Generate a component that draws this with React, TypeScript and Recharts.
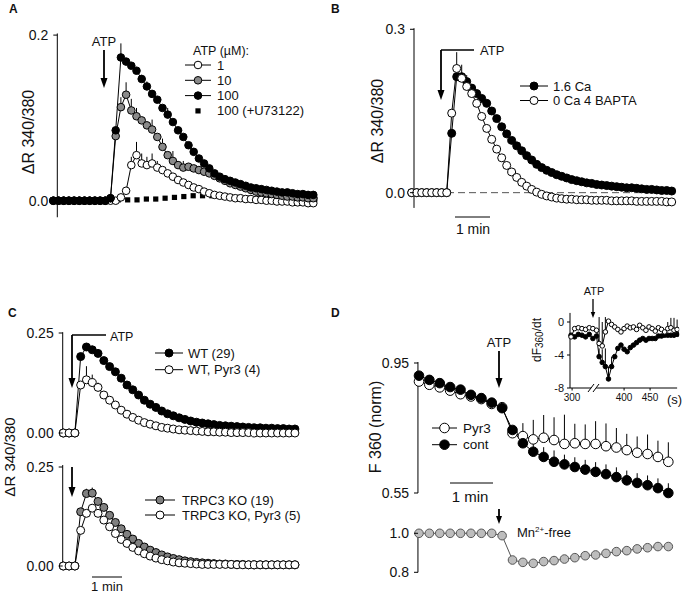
import React from 'react';
import { LineChart, Line, XAxis, YAxis, ReferenceLine, ErrorBar, Legend } from 'recharts';

const FONT = '"Liberation Sans", Arial, Helvetica, sans-serif';

// ---------- A: ATP dose response, one value per frame
const aDose1 = [
  0, 0, 0, 0, 0, 0, 0, 0, 0, 0, 0, 0, 0,
  0.004, 0.012, 0.043, 0.055, 0.045, 0.043, 0.045, 0.04, 0.037,
  0.033, 0.029, 0.025, 0.022, 0.019, 0.016, 0.014, 0.011, 0.009, 0.007,
  0.006, 0.005, 0.004, 0.003, 0.003, 0.002, 0.002, 0.001, 0.001, 0,
  0, -0.001, -0.001, -0.001, -0.002, -0.002, -0.002, -0.003, -0.003,
];
const aDose10 = [
  0, 0, 0, 0, 0, 0, 0, 0, 0, 0, 0, 0.003,
  0.078, 0.113, 0.128, 0.109, 0.102, 0.097, 0.091, 0.086, 0.077, 0.065,
  0.055, 0.048, 0.043, 0.04, 0.041, 0.039, 0.037, 0.035, 0.033, 0.03,
  0.027, 0.024, 0.021, 0.019, 0.017, 0.015, 0.013, 0.011, 0.01, 0.009,
  0.008, 0.007, 0.006, 0.005, 0.005, 0.004, 0.004, 0.003, 0.003,
];
const aDose100 = [
  0, 0, 0, 0, 0, 0, 0, 0, 0, 0, 0, 0.003,
  0.085, 0.173, 0.168, 0.163, 0.157, 0.147, 0.138, 0.129, 0.122, 0.112,
  0.104, 0.095, 0.085, 0.077, 0.067, 0.059, 0.051, 0.045, 0.039, 0.033,
  0.029, 0.026, 0.024, 0.022, 0.02, 0.018, 0.016, 0.015, 0.014, 0.013,
  0.012, 0.011, 0.01, 0.01, 0.009, 0.008, 0.008, 0.007, 0.007,
];
// upward SEM bars (missing entries = none)
const aErr1 = [0, 0, 0, 0, 0, 0, 0, 0, 0, 0, 0, 0, 0, 0, 0, 0.01, 0.016, 0.012, 0.01, 0.012, 0.008];
const aErr10 = [0, 0, 0, 0, 0, 0, 0, 0, 0, 0, 0, 0, 0, 0.012, 0.015, 0.014, 0.01, 0, 0, 0.012, 0, 0.01, 0, 0.012, 0, 0.008];
const aErr100 = [0, 0, 0, 0, 0, 0, 0, 0, 0, 0, 0, 0, 0, 0.017, 0, 0, 0, 0.005, 0.006, 0, 0, 0, 0.008];
const aU73122Frames = [12.5, 14.3, 16.1, 17.9, 19.7, 21.5, 23.3, 25.1, 26.9, 28.7, 30.5, 32.3, 34.1, 35.9, 37.7, 39.5, 41.3, 43.1, 44.9, 46.7, 48.5, 50.3];
const aU73122 = [0.001, 0.001, 0.001, 0.002, 0.002, 0.003, 0.004, 0.005, 0.006, 0.006, 0.006, 0.005, 0.004, 0.004, 0.003, 0.003, 0.003, 0.002, 0.002, 0.002, 0.002, 0.002];

// ---------- B: 1.6 Ca vs 0 Ca / BAPTA
const bCa = [
  0, 0, 0, 0, 0, 0, 0, 0,
  0.109, 0.213, 0.213, 0.204, 0.192, 0.182, 0.173, 0.164, 0.15, 0.136,
  0.121, 0.108, 0.096, 0.086, 0.077, 0.068, 0.06, 0.052, 0.046, 0.041,
  0.037, 0.033, 0.03, 0.027, 0.024, 0.022, 0.02, 0.018, 0.017, 0.015,
  0.014, 0.013, 0.012, 0.011, 0.01, 0.009, 0.009, 0.008, 0.007, 0.006,
  0.006, 0.005, 0.004, 0.004, 0.003,
];
const bBapta = [
  0, 0, 0, 0, 0, 0, 0, 0,
  0.146, 0.228, 0.21, 0.195, 0.182, 0.164, 0.14, 0.118, 0.098, 0.08,
  0.064, 0.05, 0.038, 0.028, 0.019, 0.012, 0.006, 0.001, -0.003, -0.006,
  -0.008, -0.01, -0.011, -0.012, -0.012, -0.013, -0.013, -0.013, -0.014, -0.014,
  -0.014, -0.014, -0.015, -0.015, -0.015, -0.015, -0.015, -0.016, -0.016, -0.016,
  -0.016, -0.016, -0.016, -0.017, -0.017,
];
const bErrCa = [0, 0, 0, 0, 0, 0, 0, 0, 0, 0, 0.022, 0.012];
const bErrBapta = [0, 0, 0, 0, 0, 0, 0, 0, 0, 0.03];

// ---------- C: WT / TRPC3 KO with and without Pyr3
const cWT = [
  0, 0, 0, 0.191, 0.215, 0.208, 0.199, 0.181, 0.166, 0.153,
  0.137, 0.12, 0.108, 0.095, 0.082, 0.072, 0.064, 0.055, 0.048, 0.043,
  0.038, 0.034, 0.03, 0.027, 0.025, 0.023, 0.021, 0.019, 0.018, 0.017,
  0.016, 0.015, 0.014, 0.013, 0.013, 0.012, 0.012, 0.011, 0.011, 0.01, 0.01,
];
const cWTPyr3 = [
  0, 0, 0, 0.12, 0.133, 0.126, 0.114, 0.095, 0.082, 0.07,
  0.057, 0.047, 0.039, 0.032, 0.026, 0.022, 0.018, 0.014, 0.012, 0.01,
  0.008, 0.007, 0.006, 0.005, 0.004, 0.003, 0.003, 0.002, 0.002, 0.001,
  0.001, 0.001, 0.001, 0, 0, 0, 0, 0, 0, 0, 0,
];
const cKO = [
  0, 0, 0, 0.137, 0.183, 0.184, 0.163, 0.148, 0.128, 0.11,
  0.094, 0.08, 0.068, 0.057, 0.048, 0.04, 0.034, 0.028, 0.023, 0.019,
  0.016, 0.013, 0.011, 0.009, 0.008, 0.007, 0.006, 0.005, 0.005, 0.004,
  0.004, 0.004, 0.003, 0.003, 0.003, 0.003, 0.003, 0.003, 0.003, 0.003, 0.003,
];
const cKOPyr3 = [
  0, 0, 0, 0.09, 0.133, 0.146, 0.133, 0.116, 0.099, 0.082,
  0.067, 0.057, 0.047, 0.038, 0.031, 0.025, 0.02, 0.016, 0.013, 0.01,
  0.008, 0.007, 0.006, 0.005, 0.004, 0.004, 0.004, 0.004, 0.004, 0.004,
  0.003, 0.003, 0.003, 0.003, 0.003, 0.003, 0.003, 0.003, 0.003, 0.003, 0.003,
];
const cErrWT = [0, 0, 0, 0, 0, 0.01];
const cErrWTPyr3 = [0, 0, 0, 0, 0.034, 0.02, 0.012];
const cErrKO = [0, 0, 0, 0, 0.012, 0.014];
const cErrKOPyr3 = [0, 0, 0, 0, 0, 0.008];

// ---------- D: Mn quench F360, inset derivative, Mn-free control
const dCont = [0.911, 0.898, 0.888, 0.876, 0.868, 0.852, 0.842, 0.828, 0.811, 0.744, 0.703, 0.677, 0.661, 0.646, 0.638, 0.63, 0.622, 0.615, 0.608, 0.599, 0.589, 0.581, 0.574, 0.565, 0.55];
const dPyr3 = [0.893, 0.883, 0.875, 0.865, 0.854, 0.847, 0.839, 0.824, 0.814, 0.734, 0.725, 0.715, 0.72, 0.713, 0.701, 0.703, 0.701, 0.701, 0.694, 0.69, 0.682, 0.674, 0.67, 0.661, 0.646];
const dErrCont = [0, 0, 0, 0, 0, 0, 0, 0, 0, 0.01, 0.02, 0.03, 0.03, 0.035, 0.03, 0.03, 0.03, 0.03, 0.03, 0.03, 0.03, 0.03, 0.03, 0.03, 0.03];
const dErrPyr3 = [0, 0, 0, 0, 0, 0, 0, 0, 0, 0.02, 0.04, 0.06, 0.07, 0.07, 0.09, 0.06, 0.06, 0.07, 0.07, 0.06, 0.05, 0.05, 0.06, 0.05, 0.06];
const dMnFree = [1.0, 1.0, 1.0, 1.0, 1.0, 1.0, 1.0, 1.0, 0.988, 0.863, 0.851, 0.846, 0.855, 0.86, 0.868, 0.875, 0.885, 0.889, 0.897, 0.906, 0.911, 0.92, 0.926, 0.932, 0.932];

const insetTime = [298, 305, 312, 319, 326, 333, 340, 347, 352, 358, 364, 370, 376, 382, 388, 394, 400, 406, 412, 418, 424, 430, 436, 442, 448, 454, 460, 466, 472, 478, 484, 490, 496, 502];
const insetCont = [-1.6, -1.8, -1.5, -1.6, -1.8, -1.5, -2.0, -1.7, -4.2, -4.9, -5.4, -6.9, -5.4, -4.2, -3.2, -2.8, -3.3, -3.6, -3.1, -2.8, -2.5, -2.2, -2.0, -2.2, -2.0, -2.0, -2.0, -1.7, -1.7, -1.6, -1.6, -1.6, -1.6, -1.5];
const insetPyr3 = [-1.8, -0.8, -0.7, -0.8, -0.9, -0.7, -0.8, -1.0, -2.6, -2.9, -1.2, 0.1, -0.3, -0.6, -0.9, -1.2, -0.8, -0.5, -0.7, -0.6, -0.9, -0.4, -0.7, -1.0, -0.6, -0.8, -1.1, -0.7, -0.9, -1.2, -0.8, -0.7, -1.0, -0.9];
const insetErrCont = [0, 0, 0, 0, 0, 0, 0, 0, 1.0, 1.6, 2.2, 1.5, 1.2];
const insetErrPyr3 = [0, 0, 0, 0, 0, 0, 0, 0, 3.2, 2.9, 1.8, 0, 0, 0, 0, 0, 0, 0, 0, 0, 0, 0, 0, 0, 0, 0, 0, 0, 0, 0, 0.8, 1.2, 1.5, 1.2];
const insetTicks = [300, 400, 450];

type Pt = { x: number; y: number; e: [number, number] };
const toPts = (ys: number[], errs: number[] = [], xs?: number[]): Pt[] =>
  ys.map((y, i) => ({ x: xs ? xs[i] : i, y, e: [0, errs[i] ?? 0] }));

const GREY = '#8a8a8a';

function trace(id: string, pts: Pt[], fill: string, r: number, line = '#000', edge = '#000') {
  return (
    <Line
      key={id}
      data={pts}
      dataKey="y"
      type="linear"
      stroke={line}
      strokeWidth={1}
      dot={{ r, fill, stroke: edge, strokeWidth: 1 }}
      activeDot={false}
      legendType="none"
      isAnimationActive={false}
    >
      <ErrorBar dataKey="e" direction="y" width={0} stroke="#000" strokeWidth={1} />
    </Line>
  );
}

const SquareDot = (p: any) => (
  <rect key={`sq-${p.index}`} x={p.cx - 2.6} y={p.cy - 2.6} width={5.2} height={5.2} fill="#000" />
);

function YTick(props: any) {
  const { x, y, payload, shift, digits, fs, gap, len } = props;
  const ax = x + shift;
  return (
    <g>
      <line x1={ax - len} x2={ax} y1={y} y2={y} stroke="#000" />
      <text x={ax - gap} y={y} dy="0.35em" textAnchor="end" fontSize={fs} fontFamily={FONT} fill="#111">
        {Number(payload.value).toFixed(digits)}
      </text>
    </g>
  );
}

function XTick(props: any) {
  const { x, y, payload, shift } = props;
  const ay = y + shift;
  return (
    <g>
      <line x1={x} x2={x} y1={ay} y2={ay + 2.5} stroke="#000" />
      <text x={x} y={ay + 13} textAnchor="middle" fontSize={10} fontFamily={FONT} fill="#111">
        {payload.value}
      </text>
    </g>
  );
}

function yAxis(domain: [number, number], ticks: number[], width: number, shift: number, digits: number, fs = 14, gap = 9, len = 4) {
  return (
    <YAxis
      type="number"
      domain={domain}
      allowDataOverflow
      ticks={ticks}
      interval={0}
      width={width}
      axisLine={false}
      tickLine={false}
      tickSize={0}
      tickMargin={0}
      tick={(p: any) => <YTick x={p.x} y={p.y} payload={p.payload} shift={shift} digits={digits} fs={fs} gap={gap} len={len} />}
    />
  );
}

const xAxis = (domain: [number, number]) => (
  <XAxis type="number" dataKey="x" domain={domain} allowDataOverflow hide />
);

const axisLine = (x: number, y0: number, y1: number) => (
  <ReferenceLine segment={[{ x, y: y0 }, { x, y: y1 }]} stroke="#000" strokeWidth={1} />
);

type KeyItem = { label: string; fill: string; r: number; square?: boolean };

function KeyBox({ items, gap, lineW, textX, fs, title, titleDy }: { items: KeyItem[]; gap: number; lineW: number; textX: number; fs: number; title?: string; titleDy?: number }) {
  const pad = 20;
  return (
    <svg width={240} height={pad + items.length * gap + 10} style={{ display: 'block', overflow: 'visible' }}>
      {title ? (
        <text x={8} y={pad - (titleDy ?? 0)} dy="0.35em" fontSize={fs - 0.5} fontFamily={FONT} fill="#111">{title}</text>
      ) : null}
      {items.map((it, i) => {
        const y = pad + i * gap;
        return (
          <g key={it.label}>
            {it.square ? (
              <rect x={lineW / 2 - 2.6} y={y - 2.6} width={5.2} height={5.2} fill="#000" />
            ) : (
              <>
                <line x1={0} x2={lineW} y1={y} y2={y} stroke="#000" />
                <circle cx={lineW / 2} cy={y} r={it.r} fill={it.fill} stroke="#000" />
              </>
            )}
            <text x={textX} y={y} dy="0.35em" fontSize={fs} fontFamily={FONT} fill="#111">{it.label}</text>
          </g>
        );
      })}
    </svg>
  );
}

function keyLegend(left: number, top: number, box: React.ReactElement) {
  return (
    <Legend
      layout="vertical"
      align="center"
      verticalAlign="middle"
      content={() => box}
      wrapperStyle={{ left, top, width: 240, height: 90 }}
    />
  );
}

function Arrow({ x, y1, y2, w = 1.8, head = 7, hl = 10 }: { x: number; y1: number; y2: number; w?: number; head?: number; hl?: number }) {
  return (
    <g>
      <line x1={x} x2={x} y1={y1} y2={y2 - hl + 1} stroke="#000" strokeWidth={w} />
      <polygon points={`${x - head / 2},${y2 - hl} ${x + head / 2},${y2 - hl} ${x},${y2}`} fill="#000" />
    </g>
  );
}

function VLabel({ cx, cy, fs, children }: { cx: number; cy: number; fs: number; children: React.ReactNode }) {
  return (
    <text transform={`translate(${cx},${cy}) rotate(-90)`} textAnchor="middle" dy="0.35em" fontSize={fs} fontFamily={FONT} fill="#111">
      {children}
    </text>
  );
}

const abs = (l: number, t: number): React.CSSProperties => ({ position: 'absolute', left: l, top: t });

export default function App() {
  return (
    <div style={{ position: 'absolute', left: 0, top: 0, width: 683, height: 594, background: '#fff', overflow: 'hidden', fontFamily: FONT }}>
      {/* A */}
      <div style={abs(0, 0)}>
        <LineChart width={330} height={230} margin={{ top: 18.54, right: 5.26, bottom: 4.46, left: 0 }}>
          {xAxis([-1.6, 52.2])}
          {yAxis([-0.03, 0.22], [0, 0.2], 44.98, 12.32, 1)}
          {axisLine(0.77, -0.02, 0.202)}
          <Line data={toPts(aU73122, [], aU73122Frames)} dataKey="y" stroke="none" dot={SquareDot} activeDot={false} legendType="none" isAnimationActive={false} />
          {trace('a1', toPts(aDose1, aErr1), '#fff', 3.8)}
          {trace('a10', toPts(aDose10, aErr10), GREY, 3.8)}
          {trace('a100', toPts(aDose100, aErr100), '#000', 3.8)}
          {keyLegend(185, 44.5, (
            <KeyBox
              title="ATP (µM):"
              titleDy={14}
              gap={15.3}
              lineW={26}
              textX={32}
              fs={13}
              items={[
                { label: '1', fill: '#fff', r: 3.8 },
                { label: '10', fill: GREY, r: 3.8 },
                { label: '100', fill: '#000', r: 3.8 },
                { label: '100 (+U73122)', fill: '#000', r: 3.8, square: true },
              ]}
            />
          ))}
        </LineChart>
      </div>

      {/* B */}
      <div style={abs(340, 0)}>
        <LineChart width={343} height={230} margin={{ top: 12.95, right: 3.3, bottom: 10.1, left: 0 }}>
          {xAxis([-2.3, 53.6])}
          {yAxis([-0.05, 0.33], [0, 0.3], 60.2, 13.8, 1)}
          {axisLine(0.46, -0.028, 0.302)}
          <ReferenceLine segment={[{ x: 0.46, y: 0 }, { x: 52.3, y: 0 }]} stroke="#555" strokeDasharray="7 4" />
          {trace('bca', toPts(bCa, bErrCa), '#000', 4)}
          {trace('bbapta', toPts(bBapta, bErrBapta), '#fff', 4)}
          {keyLegend(180, 66, (
            <KeyBox
              gap={14.5}
              lineW={28}
              textX={33}
              fs={13}
              items={[
                { label: '1.6 Ca', fill: '#000', r: 4 },
                { label: '0 Ca 4 BAPTA', fill: '#fff', r: 4 },
              ]}
            />
          ))}
        </LineChart>
      </div>

      {/* C top */}
      <div style={abs(0, 320)}>
        <LineChart width={340} height={125} margin={{ top: 5, right: 36.4, bottom: 2, left: 0 }}>
          {xAxis([-1.5, 41.5])}
          {yAxis([-0.025, 0.27], [0, 0.25], 54.6, 8.1, 2)}
          {axisLine(-0.1, -0.005, 0.252)}
          {trace('cwt', toPts(cWT, cErrWT), '#000', 4)}
          {trace('cwtp', toPts(cWTPyr3, cErrWTPyr3), '#fff', 4)}
          {keyLegend(155, 13.3, (
            <KeyBox
              gap={16.7}
              lineW={28}
              textX={33}
              fs={13}
              items={[
                { label: 'WT (29)', fill: '#000', r: 4 },
                { label: 'WT, Pyr3 (4)', fill: '#fff', r: 4 },
              ]}
            />
          ))}
        </LineChart>
      </div>

      {/* C bottom */}
      <div style={abs(0, 455)}>
        <LineChart width={340} height={125} margin={{ top: 4.08, right: 36.4, bottom: 4.1, left: 0 }}>
          {xAxis([-1.5, 41.5])}
          {yAxis([-0.025, 0.27], [0, 0.25], 54.6, 8.1, 2)}
          {axisLine(-0.1, -0.005, 0.255)}
          {trace('cko', toPts(cKO, cErrKO), '#808080', 4)}
          {trace('ckop', toPts(cKOPyr3, cErrKOPyr3), '#fff', 4)}
          {keyLegend(145, 25, (
            <KeyBox
              gap={15}
              lineW={30}
              textX={37}
              fs={13}
              items={[
                { label: 'TRPC3 KO (19)', fill: '#808080', r: 4 },
                { label: 'TRPC3 KO, Pyr3 (5)', fill: '#fff', r: 4 },
              ]}
            />
          ))}
        </LineChart>
      </div>

      {/* D main */}
      <div style={abs(340, 340)}>
        <LineChart width={343} height={170} margin={{ top: 10, right: 2.2, bottom: 4, left: 0 }}>
          {xAxis([-1.5, 25.2])}
          {yAxis([0.51, 0.99], [0.55, 0.95], 63.4, 14.6, 2)}
          {axisLine(-0.1, 0.55, 0.953)}
          {trace('dpyr', toPts(dPyr3, dErrPyr3), '#fff', 4.8)}
          {trace('dcont', toPts(dCont, dErrCont), '#000', 4.8)}
          {keyLegend(92, 68.3, (
            <KeyBox
              gap={16.7}
              lineW={25}
              textX={31}
              fs={13.5}
              items={[
                { label: 'Pyr3', fill: '#fff', r: 4.8 },
                { label: 'cont', fill: '#000', r: 4.8 },
              ]}
            />
          ))}
        </LineChart>
      </div>

      {/* D bottom: Mn2+-free */}
      <div style={abs(340, 515)}>
        <LineChart width={343} height={70} margin={{ top: 8.55, right: 2.2, bottom: 6.85, left: 0 }}>
          {xAxis([-1.5, 25.2])}
          {yAxis([0.77, 1.05], [0.8, 1.0], 63.4, 14.6, 1)}
          {axisLine(-0.1, 0.8, 1.005)}
          {trace('dmn', toPts(dMnFree), '#bdbdbd', 4.3, '#555', '#555')}
        </LineChart>
      </div>

      {/* D inset */}
      <div style={abs(530, 300)}>
        <LineChart width={153} height={110} margin={{ top: 7.15, right: 3.8, bottom: 0, left: 0 }}>
          <XAxis
            type="number"
            dataKey="x"
            domain={[290, 506]}
            allowDataOverflow
            ticks={insetTicks}
            interval={0}
            height={17.05}
            axisLine={false}
            tickLine={false}
            tickSize={0}
            tickMargin={0}
            tick={(p: any) => <XTick x={p.x} y={p.y} payload={p.payload} shift={-4.95} />}
          />
          {yAxis([-8.6, 1.8], [-8, -4, 0], 36.88, 3.12, 0, 11, 6, 3)}
          {axisLine(296, -8, 1.1)}
          <ReferenceLine segment={[{ x: 296, y: -8 }, { x: 502, y: -8 }]} stroke="#000" strokeWidth={1} />
          {trace('icont', toPts(insetCont, insetErrCont, insetTime), '#000', 2.3)}
          {trace('ipyr', toPts(insetPyr3, insetErrPyr3, insetTime), '#fff', 2.3)}
        </LineChart>
      </div>

      {/* annotations */}
      <svg width={683} height={594} style={{ position: 'absolute', left: 0, top: 0, pointerEvents: 'none' }}>
        <g fontFamily={FONT} fill="#111">
          <text x={9} y={13} fontSize={12} fontWeight="bold">A</text>
          <text x={331} y={13} fontSize={12} fontWeight="bold">B</text>
          <text x={8} y={317} fontSize={12} fontWeight="bold">C</text>
          <text x={331} y={317} fontSize={12} fontWeight="bold">D</text>

          <VLabel cx={28} cy={132} fs={16}>ΔR 340/380</VLabel>
          <VLabel cx={377} cy={121} fs={16}>ΔR 340/380</VLabel>
          <VLabel cx={10} cy={457} fs={15}>ΔR 340/380</VLabel>
          <VLabel cx={375} cy={427} fs={16}>F 360 (norm)</VLabel>
          <VLabel cx={537} cy={340} fs={12}>
            <tspan>dF</tspan>
            <tspan fontSize={10} dy={2}>360</tspan>
            <tspan dy={-2}>/dt</tspan>
          </VLabel>

          {/* A */}
          <text x={104} y={46} fontSize={13} textAnchor="middle">ATP</text>
          <Arrow x={104} y1={50} y2={88} />

          {/* B */}
          <line x1={441} x2={474} y1={50} y2={50} stroke="#000" strokeWidth={1.6} />
          <Arrow x={441} y1={50} y2={100} />
          <text x={480} y={55} fontSize={13}>ATP</text>
          <line x1={455} x2={490} y1={217} y2={217} stroke="#000" strokeWidth={1} />
          <text x={473} y={234} fontSize={14} textAnchor="middle">1 min</text>

          {/* C */}
          <line x1={72} x2={106} y1={335} y2={335} stroke="#000" strokeWidth={1.6} />
          <Arrow x={72} y1={335} y2={388} />
          <text x={110} y={341} fontSize={12.5}>ATP</text>
          <Arrow x={72} y1={467} y2={497} />
          <line x1={92} x2={122} y1={577} y2={577} stroke="#000" strokeWidth={1} />
          <text x={107} y={590.5} fontSize={13} textAnchor="middle">1 min</text>

          {/* D */}
          <text x={499} y={347} fontSize={13} textAnchor="middle">ATP</text>
          <Arrow x={499} y1={351} y2={388} />
          <line x1={450} x2={493} y1={483} y2={483} stroke="#000" strokeWidth={1} />
          <text x={470} y={502} fontSize={15} textAnchor="middle">1 min</text>
          <Arrow x={499} y1={509} y2={524} hl={8} head={6} />
          <text x={517} y={537} fontSize={13}>
            Mn<tspan fontSize={8} dy={-5}>2+</tspan><tspan dy={5}>-free</tspan>
          </text>

          {/* inset */}
          <text x={594} y={295} fontSize={11} textAnchor="middle">ATP</text>
          <Arrow x={593} y1={299} y2={318} w={1.3} head={4.5} hl={6} />
          <line x1={591} x2={597} y1={392} y2={384} stroke="#fff" strokeWidth={4} />
          <line x1={588} x2={594} y1={392} y2={384} stroke="#000" strokeWidth={1} />
          <line x1={593} x2={599} y1={392} y2={384} stroke="#000" strokeWidth={1} />
          <text x={667} y={404} fontSize={13}>(s)</text>
        </g>
      </svg>
    </div>
  );
}
